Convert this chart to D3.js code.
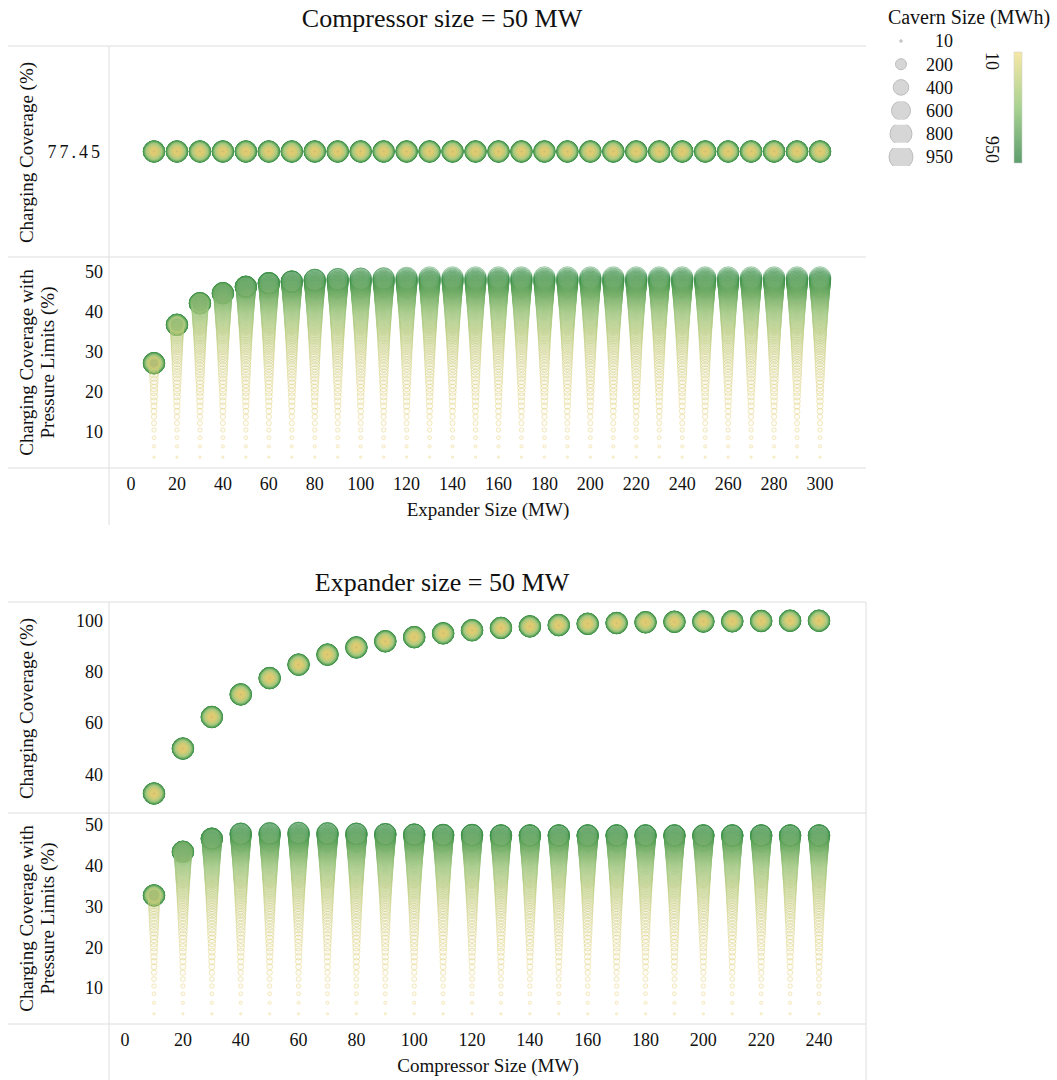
<meta charset="utf-8">
<style>
	body {
		margin: 0;
		background: #fff;
	}
	text {
		font-family: "Liberation Serif", "Times New Roman", serif;
		fill: #111;
	}
</style>
<body>
<script src="https://cdn.jsdelivr.net/npm/d3@7"></script>

<svg id="svg"></svg>

<script>
// DATA
// cavern sizes (MWh), one circle per size in every column
var cavernSizes = [
	10, 20, 30, 40, 50, 60, 70, 80, 90, 100,
	110, 120, 130, 140, 150, 160, 170, 180, 190, 200,
	210, 220, 230, 240, 250, 260, 270, 280, 290, 300,
	310, 320, 330, 340, 350, 360, 370, 380, 390, 400,
	410, 420, 430, 440, 450, 460, 470, 480, 490, 500,
	510, 520, 530, 540, 550, 560, 570, 580, 590, 600,
	610, 620, 630, 640, 650, 660, 670, 680, 690, 700,
	710, 720, 730, 740, 750, 760, 770, 780, 790, 800,
	810, 820, 830, 840, 850, 860, 870, 880, 890, 900,
	910, 920, 930, 940, 950 ]

// coverage with pressure limits when the machine is not the bottleneck (%), per cavern size
var cavernCoverage = [
	3.7, 6.4, 8.6, 10.5, 12.2, 13.8, 15.2, 16.5, 17.7, 18.9,
	20.0, 21.0, 22.0, 22.9, 23.8, 24.6, 25.4, 26.2, 26.9, 27.6,
	28.3, 28.9, 29.5, 30.1, 30.7, 31.2, 31.7, 32.2, 32.7, 33.2,
	33.6, 34.0, 34.4, 34.8, 35.2, 35.6, 36.0, 36.3, 36.6, 36.9,
	37.2, 37.5, 37.8, 38.1, 38.4, 38.7, 39.0, 39.3, 39.6, 39.9,
	40.1, 40.4, 40.6, 40.9, 41.1, 41.4, 41.6, 41.9, 42.1, 42.3,
	42.5, 42.7, 42.9, 43.1, 43.3, 43.5, 43.7, 43.9, 44.1, 44.3,
	44.5, 44.7, 44.9, 45.1, 45.3, 45.5, 45.6, 45.8, 45.9, 46.1,
	46.2, 46.4, 46.5, 46.7, 46.8, 47.0, 47.1, 47.3, 47.4, 47.6,
	47.7, 47.9, 48.1, 48.3, 48.6 ]

// compressor = 50 MW
var expanderSizes = [ 10, 20, 30, 40, 50, 60, 70, 80, 90, 100, 110, 120, 130, 140, 150,
	160, 170, 180, 190, 200, 210, 220, 230, 240, 250, 260, 270, 280, 290, 300 ]
var expanderCoverage = [ 77.45, 77.45, 77.45, 77.45, 77.45, 77.45, 77.45, 77.45, 77.45, 77.45,
	77.45, 77.45, 77.45, 77.45, 77.45, 77.45, 77.45, 77.45, 77.45, 77.45,
	77.45, 77.45, 77.45, 77.45, 77.45, 77.45, 77.45, 77.45, 77.45, 77.45 ]
var expanderPressureMax = [ 27.2, 36.8, 42.2, 44.7, 46.3, 47.2, 47.6, 48.0, 48.2, 48.3,
	48.4, 48.5, 48.6, 48.6, 48.6, 48.6, 48.6, 48.6, 48.6, 48.6,
	48.6, 48.6, 48.6, 48.6, 48.6, 48.6, 48.6, 48.6, 48.6, 48.6 ]

// expander = 50 MW
var compressorSizes = [ 10, 20, 30, 40, 50, 60, 70, 80, 90, 100, 110, 120,
	130, 140, 150, 160, 170, 180, 190, 200, 210, 220, 230, 240 ]
var compressorCoverage = [ 32.5, 50.0, 62.3, 71.1, 77.45, 82.7, 86.6, 89.4, 91.8, 93.4, 94.9, 96.1,
	97.0, 97.6, 98.1, 98.6, 98.9, 99.2, 99.4, 99.5, 99.6, 99.7, 99.8, 99.8 ]
var compressorPressureMax = [ 32.7, 43.4, 46.6, 47.8, 47.9, 48.0, 47.9, 47.8, 47.7, 47.6, 47.5, 47.5,
	47.4, 47.4, 47.4, 47.4, 47.4, 47.4, 47.4, 47.4, 47.4, 47.4, 47.4, 47.4 ]

var legendSizes = [ 10, 200, 400, 600, 800, 950 ]

// CANVAS
var width = 1057
var height = 1080

var svg = d3.select( '#svg' )
	.attr( 'width', width )
	.attr( 'height', height )

var grid = '#dedede'
var left = 8
var right = 866
var axisX = 109
var panelH = 211

// legend swatch colours
var color = d3.scaleLinear()
	.domain([ 10, 480, 950 ])
	.range([ '#f6e7a6', '#a9d291', '#5e9e6e' ])

// marks are drawn a bit stronger than the swatch (tableau border look)
var markColor = d3.scaleLinear()
	.domain([ 10, 480, 950 ])
	.range([ '#e9cf72', '#a3c982', '#2f8a40' ])

var radius = d3.scaleSqrt()
	.domain([ 0, 950 ])
	.range([ 0, 10.8 ])

// biggest caverns first so the small ones stay visible on top
var order = d3.range( cavernSizes.length ).sort(( a, b )=> cavernSizes[ b ] - cavernSizes[ a ])

function drawCircles( g, cols, x, y, valueOf ){
	var data = []
	cols.forEach(( c, j )=> {
		order.forEach( i => {
			data.push({ col: c, size: cavernSizes[ i ], v: valueOf( i, j ) })
		})
	})

	g.append( 'g' )
		.selectAll( 'circle' )
		.data( data )
		.enter()
		.append( 'circle' )
			.attr( 'cx', d => x( d.col ))
			.attr( 'cy', d => y( d.v ))
			.attr( 'r', d => radius( d.size ))
			.attr( 'fill', d => markColor( d.size ))
			.attr( 'fill-opacity', 0.06 )
			.attr( 'stroke', d => markColor( d.size ))
			.attr( 'stroke-opacity', 0.45 )
			.attr( 'stroke-width', 1 )
}

function yTicks( g, y, ticks, fmt ){
	g.append( 'g' )
		.selectAll( 'text' )
		.data( ticks )
		.enter()
		.append( 'text' )
			.attr( 'x', 103 )
			.attr( 'y', d => y( d ))
			.attr( 'dy', '0.35em' )
			.attr( 'text-anchor', 'end' )
			.style( 'font-size', '18px' )
			.text( fmt )
}

function yTitle( g, lines, mid ){
	lines.forEach(( t, k )=> {
		g.append( 'text' )
			.attr( 'transform', 'translate(' + ( 33 + k * 21 ) + ',' + mid + ') rotate(-90)' )
			.attr( 'text-anchor', 'middle' )
			.style( 'font-size', '19px' )
			.text( t )
	})
}

function drawChart( cfg ){
	var g = svg.append( 'g' )
	var top = cfg.top
	var mid = top + panelH
	var bottom = top + 2 * panelH

	// title
	g.append( 'text' )
		.attr( 'x', 442 )
		.attr( 'y', cfg.titleY )
		.attr( 'text-anchor', 'middle' )
		.style( 'font-size', '26px' )
		.text( cfg.title )

	// GRID
	;[ top, mid, bottom ].forEach( yy => {
		g.append( 'line' )
			.attr( 'x1', left ).attr( 'x2', right )
			.attr( 'y1', yy ).attr( 'y2', yy )
			.attr( 'stroke', grid )
	})
	g.append( 'line' )
		.attr( 'x1', axisX ).attr( 'x2', axisX )
		.attr( 'y1', top ).attr( 'y2', cfg.axisEnd )
		.attr( 'stroke', grid )
	if( cfg.rightEdge ){
		g.append( 'line' )
			.attr( 'x1', right ).attr( 'x2', right )
			.attr( 'y1', top ).attr( 'y2', cfg.axisEnd )
			.attr( 'stroke', grid )
	}

	// X axis
	var x = d3.scaleLinear()
		.domain([ cfg.cols[ 0 ], cfg.cols[ cfg.cols.length - 1 ]])
		.range([ 154, cfg.xEnd ])

	g.append( 'g' )
		.selectAll( 'text' )
		.data( cfg.xTicks )
		.enter()
		.append( 'text' )
			.attr( 'x', d => x( d ))
			.attr( 'y', bottom + 22 )
			.attr( 'text-anchor', 'middle' )
			.style( 'font-size', '18px' )
			.text( d => d )

	g.append( 'text' )
		.attr( 'x', 488 )
		.attr( 'y', bottom + 48 )
		.attr( 'text-anchor', 'middle' )
		.style( 'font-size', '19px' )
		.text( cfg.xTitle )

	// upper panel: charging coverage
	var yUp = d3.scaleLinear()
		.domain( cfg.upDomain )
		.range([ mid, top ])
	yTicks( g, yUp, cfg.upTicks, cfg.upFormat )
	yTitle( g, [ 'Charging Coverage (%)' ], ( top + mid ) / 2 + 1 )
	drawCircles( g, cfg.cols, x, yUp, ( i, j )=> cfg.coverage[ j ])

	// lower panel: with pressure limits
	var yLo = d3.scaleLinear()
		.domain( cfg.loDomain )
		.range([ bottom, mid ])
	yTicks( g, yLo, [ 10, 20, 30, 40, 50 ], d => d )
	yTitle( g, [ 'Charging Coverage with', 'Pressure Limits (%)' ], ( mid + bottom ) / 2 )
	drawCircles( g, cfg.cols, x, yLo, ( i, j )=> Math.min( cavernCoverage[ i ], cfg.pressureMax[ j ]))
}

drawChart({
	title: 'Compressor size = 50 MW',
	titleY: 27,
	top: 46,
	axisEnd: 525,
	cols: expanderSizes,
	xEnd: 820,
	xTicks: d3.range( 0, 301, 20 ),
	xTitle: 'Expander Size (MW)',
	coverage: expanderCoverage,
	upDomain: [ 77.45 - 1, 77.45 + 1 ],
	upTicks: [ 77.45 ],
	upFormat: d => d.toFixed( 2 ),
	pressureMax: expanderPressureMax,
	loDomain: [ 1, 53.75 ]
})

drawChart({
	title: 'Expander size = 50 MW',
	titleY: 591,
	top: 602,
	axisEnd: 1080,
	rightEdge: true,
	cols: compressorSizes,
	xEnd: 819,
	xTicks: d3.range( 0, 241, 20 ),
	xTitle: 'Compressor Size (MW)',
	coverage: compressorCoverage,
	upDomain: [ 24.9, 107.1 ],
	upTicks: [ 40, 60, 80, 100 ],
	upFormat: d => d,
	pressureMax: compressorPressureMax,
	loDomain: [ 1.2, 52.9 ]
})

// LEGEND
var legend = svg.append( 'g' )

legend.append( 'text' )
	.attr( 'x', 969 )
	.attr( 'y', 24 )
	.attr( 'text-anchor', 'middle' )
	.style( 'font-size', '20px' )
	.text( 'Cavern Size (MWh)' )

var legendRadius = d3.scaleSqrt()
	.domain([ 0, 950 ])
	.range([ 0, 12 ])

var rowY = d3.scaleLinear()
	.domain([ 0, 5 ])
	.range([ 41, 157 ])

var defs = svg.append( 'defs' )

legendSizes.forEach(( s, k )=> {
	var cy = rowY( k )
	defs.append( 'clipPath' )
		.attr( 'id', 'row' + k )
		.append( 'rect' )
			.attr( 'x', 880 )
			.attr( 'y', cy - 9 )
			.attr( 'width', 45 )
			.attr( 'height', 18 )

	legend.append( 'circle' )
		.attr( 'cx', 901 )
		.attr( 'cy', cy )
		.attr( 'r', legendRadius( s ))
		.attr( 'fill', '#d6d6d6' )
		.attr( 'stroke', '#bdbdbd' )
		.attr( 'clip-path', 'url(#row' + k + ')' )

	legend.append( 'text' )
		.attr( 'x', 953 )
		.attr( 'y', cy )
		.attr( 'dy', '0.35em' )
		.attr( 'text-anchor', 'end' )
		.style( 'font-size', '18px' )
		.text( s )
})

// color bar
var grad = defs.append( 'linearGradient' )
	.attr( 'id', 'bar' )
	.attr( 'x1', 0 ).attr( 'x2', 0 )
	.attr( 'y1', 0 ).attr( 'y2', 1 )

color.domain().forEach( v => {
	grad.append( 'stop' )
		.attr( 'offset', ( v - 10 ) / 940 )
		.attr( 'stop-color', color( v ))
})

legend.append( 'rect' )
	.attr( 'x', 1014 )
	.attr( 'y', 52 )
	.attr( 'width', 8 )
	.attr( 'height', 111 )
	.attr( 'fill', 'url(#bar)' )
	.attr( 'stroke', '#d0d0d0' )
	.attr( 'stroke-width', 0.5 )

legend.append( 'text' )
	.attr( 'transform', 'translate(986,52) rotate(90)' )
	.attr( 'text-anchor', 'start' )
	.style( 'font-size', '18px' )
	.text( '10' )

legend.append( 'text' )
	.attr( 'transform', 'translate(986,163) rotate(90)' )
	.attr( 'text-anchor', 'end' )
	.style( 'font-size', '18px' )
	.text( '950' )

// odd wide spacing on the single tick of the flat panel
svg.selectAll( 'text' )
	.filter( function(){ return d3.select( this ).text() == '77.45' })
	.style( 'letter-spacing', '3px' )
</script>
</body>
